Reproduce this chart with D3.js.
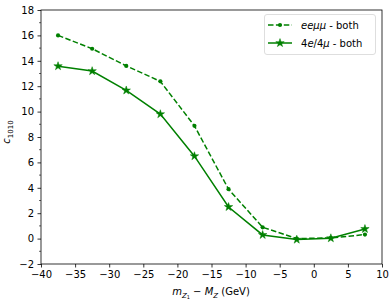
<!DOCTYPE html>
<html>
<head>
<meta charset="utf-8">
<script src="https://cdn.jsdelivr.net/npm/d3@7"></script>
<style>
  body { margin: 0; background: #fff; }
  text { font-family: "DejaVu Sans", sans-serif; }
</style>
</head>
<body>
<div id="chart"></div>
<script>
// x positions (bin centres) and the two series
var xValues = [-37.5, -32.5, -27.5, -22.5, -17.5, -12.5, -7.5, -2.5, 2.5, 7.5];
var eemumu = [16.0, 14.95, 13.6, 12.38, 8.88, 3.89, 0.89, 0.0, 0.05, 0.32];
var fourLep = [13.58, 13.19, 11.67, 9.8, 6.49, 2.49, 0.29, -0.08, 0.03, 0.76];

var xTicks = [-40, -35, -30, -25, -20, -15, -10, -5, 0, 5, 10];
var yTicks = [-2, 0, 2, 4, 6, 8, 10, 12, 14, 16, 18];
var yMinor = d3.range(-2, 18.5, 1);

var width = 391;
var height = 300;
// plot box (note: "top" is taken by window.top)
var pL = 41, pR = 382, pT = 10, pB = 264;
var green = "#008000";

var svg = d3.select("#chart")
  .append("svg")
  .attr("width", width)
  .attr("height", height);

var x = d3.scaleLinear().domain([-40, 10]).range([pL, pR]);
var y = d3.scaleLinear().domain([-2, 18]).range([pB, pT]);

function fmt(d) { return d < 0 ? "\u2212" + Math.abs(d) : d; }

// axes
var xAxis = d3.axisBottom(x).tickValues(xTicks).tickSize(3.5).tickPadding(3.5).tickFormat(fmt);
var yAxis = d3.axisLeft(y).tickValues(yTicks).tickSize(3.5).tickPadding(3.5).tickFormat(fmt);

svg.append("g")
  .attr("transform", "translate(0," + pB + ")")
  .call(xAxis)
  .call(function(g) { g.select(".domain").remove(); });

svg.append("g")
  .attr("transform", "translate(" + pL + ",0)")
  .call(yAxis)
  .call(function(g) { g.select(".domain").remove(); });

// minor ticks on y
svg.append("g").selectAll("line")
  .data(yMinor.filter(function(d) { return yTicks.indexOf(d) < 0; }))
  .enter().append("line")
  .attr("x1", pL).attr("x2", pL - 2)
  .attr("y1", function(d) { return y(d); })
  .attr("y2", function(d) { return y(d); })
  .attr("stroke", "#000").attr("stroke-width", 0.6);

svg.selectAll(".tick text").attr("font-size", 10).attr("fill", "#000")
  .style("font-family", "DejaVu Sans");
svg.selectAll(".tick line").attr("stroke-width", 0.8);

// frame
svg.append("rect")
  .attr("x", pL).attr("y", pT)
  .attr("width", pR - pL).attr("height", pB - pT)
  .attr("fill", "none").attr("stroke", "#000").attr("stroke-width", 0.8);

// lines
var line = d3.line()
  .x(function(d) { return x(d[0]); })
  .y(function(d) { return y(d[1]); });

var dashedData = xValues.map(function(v, i) { return [v, eemumu[i]]; });
var solidData = xValues.map(function(v, i) { return [v, fourLep[i]]; });

svg.append("path")
  .datum(dashedData)
  .attr("d", line)
  .attr("fill", "none")
  .attr("stroke", green)
  .attr("stroke-width", 1.5)
  .attr("stroke-dasharray", "5.5,2.4");

svg.append("path")
  .datum(solidData)
  .attr("d", line)
  .attr("fill", "none")
  .attr("stroke", green)
  .attr("stroke-width", 1.5);

// markers
svg.append("g").selectAll("circle")
  .data(dashedData)
  .enter().append("circle")
  .attr("cx", function(d) { return x(d[0]); })
  .attr("cy", function(d) { return y(d[1]); })
  .attr("r", 2.1)
  .attr("fill", green);

var star = d3.symbol().type(d3.symbolStar).size(22);
svg.append("g").selectAll("path")
  .data(solidData)
  .enter().append("path")
  .attr("d", star)
  .attr("transform", function(d) { return "translate(" + x(d[0]) + "," + y(d[1]) + ")"; })
  .attr("fill", green)
  .attr("stroke", green)
  .attr("stroke-width", 0.5);

// legend
var lg = svg.append("g");
lg.append("rect")
  .attr("x", 264.5).attr("y", 14.5)
  .attr("width", 111).attr("height", 40)
  .attr("rx", 2.5)
  .attr("fill", "#fff").attr("fill-opacity", 0.8)
  .attr("stroke", "#d6d6d6").attr("stroke-width", 0.8);

lg.append("line")
  .attr("x1", 268).attr("x2", 292).attr("y1", 25).attr("y2", 25)
  .attr("stroke", green).attr("stroke-width", 1.5).attr("stroke-dasharray", "5.5,2.4");
lg.append("circle").attr("cx", 280).attr("cy", 25).attr("r", 2.1).attr("fill", green);
lg.append("line")
  .attr("x1", 268).attr("x2", 292).attr("y1", 43).attr("y2", 43)
  .attr("stroke", green).attr("stroke-width", 1.5);
lg.append("path").attr("d", star)
  .attr("transform", "translate(280,43)")
  .attr("fill", green).attr("stroke", green).attr("stroke-width", 0.5);

var t1 = lg.append("text").attr("x", 301).attr("y", 28.5).attr("font-size", 10);
t1.append("tspan").attr("font-style", "italic").text("ee\u03bc\u03bc");
t1.append("tspan").text(" - both");

var t2 = lg.append("text").attr("x", 301).attr("y", 46.5).attr("font-size", 10);
t2.append("tspan").text("4");
t2.append("tspan").attr("font-style", "italic").text("e");
t2.append("tspan").text("/4");
t2.append("tspan").attr("font-style", "italic").text("\u03bc");
t2.append("tspan").text(" - both");

// axis labels
var xl = svg.append("text")
  .attr("x", 211).attr("y", 295)
  .attr("text-anchor", "middle")
  .attr("font-size", 10);
xl.append("tspan").attr("font-style", "italic").text("m");
xl.append("tspan").attr("font-style", "italic").attr("font-size", 7).attr("dy", 2.5).text("Z");
xl.append("tspan").attr("font-size", 5).attr("dy", 1.5).text("1");
xl.append("tspan").attr("dy", -4).text(" \u2212 ");
xl.append("tspan").attr("font-style", "italic").text("M");
xl.append("tspan").attr("font-style", "italic").attr("font-size", 7).attr("dy", 2.5).text("Z");
xl.append("tspan").attr("dy", -2.5).text(" (GeV)");

var yl = svg.append("text")
  .attr("transform", "translate(10,132) rotate(-90)")
  .attr("text-anchor", "middle")
  .attr("font-size", 10);
yl.append("tspan").attr("font-style", "italic").text("c");
yl.append("tspan").attr("font-size", 7).attr("dy", 2.5).text("1010");
</script>
</body>
</html>
